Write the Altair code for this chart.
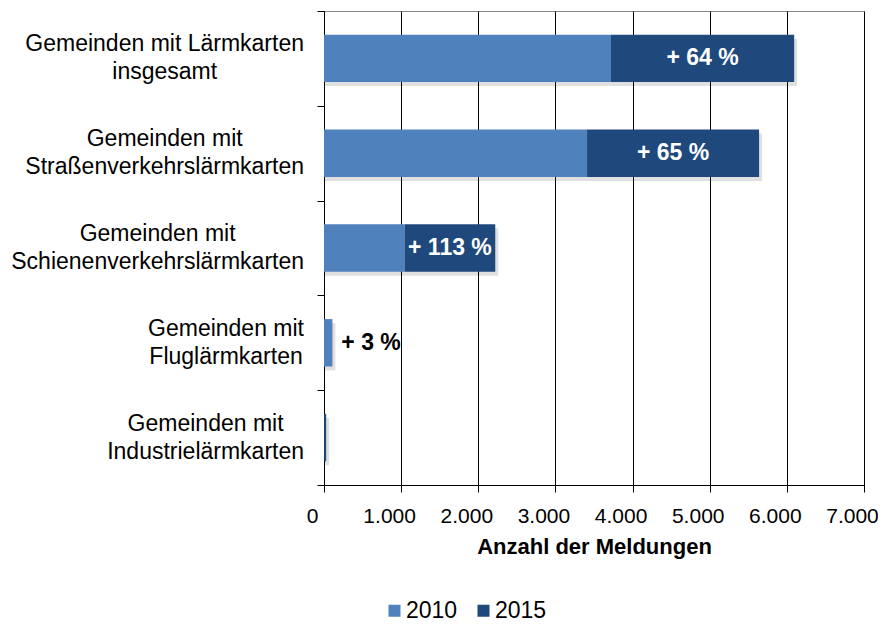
import altair as alt
import pandas as pd

# ---- data ----
categories = [
    "Gemeinden mit Lärmkarten\ninsgesamt",
    "Gemeinden mit\nStraßenverkehrslärmkarten",
    "Gemeinden mit\nSchienenverkehrslärmkarten",
    "Gemeinden mit\nFluglärmkarten",
    "Gemeinden mit\nIndustrielärmkarten",
]
values_2010 = [3720, 3410, 1045, 105, 5]
values_2015 = [6095, 5640, 2220, 108, 28]
change_labels = ["+ 64 %", "+ 65 %", "+ 113 %", "+ 3 %", ""]
series = ["2010", "2015"]
series_colors = ["#4F81BD", "#1F497D"]
x_ticks = [0, 1000, 2000, 3000, 4000, 5000, 6000, 7000]

FONT = "Liberation Sans"
CAT_SIZE = 23
LABEL_GAP = 20
LINE_H = 28

# Liberation Sans / Arial advance widths (per 1000 em) to right-align label blocks
ARIAL = {
    " ": 278, "G": 778, "e": 556, "m": 833, "i": 222, "n": 556, "d": 556, "t": 278,
    "L": 556, "ä": 556, "r": 333, "k": 500, "a": 556, "s": 500, "g": 556, "S": 667,
    "ß": 611, "v": 500, "h": 556, "l": 222, "c": 500, "F": 611, "u": 556, "I": 278,
    "o": 556,
}


def text_width(s, size):
    return sum(ARIAL.get(ch, 556) for ch in s) / 1000.0 * size


base = pd.DataFrame({
    "cat": categories,
    "v2010": values_2010,
    "v2015": values_2015,
    "label": change_labels,
})
base["lx"] = [-(LABEL_GAP + max(text_width(l, CAT_SIZE) for l in c.split("\n")) / 2)
              for c in categories]

rows = []
for c, a, b in zip(categories, values_2010, values_2015):
    rows.append({"cat": c, "series": series[0], "start": 0, "end": a})
    rows.append({"cat": c, "series": series[1], "start": a, "end": b})
bars_df = pd.DataFrame(rows)

y_enc = alt.Y("cat:N", sort=categories,
              scale=alt.Scale(paddingInner=0, paddingOuter=0),
              axis=alt.Axis(labels=False, title=None, tickBand="extent",
                            tickSize=7, tickColor="black", domainColor="black",
                            grid=False))
x_scale = alt.Scale(domain=[0, 7000], nice=False)

shadow = alt.Chart(base).mark_bar(
    color="black", opacity=0.12, xOffset=3, yOffset=4,
    height=alt.RelativeBandSize(0.5)
).encode(
    y=alt.Y("cat:N", sort=categories),
    x=alt.X("v2015:Q", scale=x_scale),
    x2=alt.datum(0),
)

bars = alt.Chart(bars_df).mark_bar(height=alt.RelativeBandSize(0.5)).encode(
    y=y_enc,
    x=alt.X("start:Q", scale=x_scale,
            axis=alt.Axis(values=x_ticks, grid=True, gridColor="black", gridOpacity=1,
                          gridWidth=1, domainColor="black", tickColor="black", tickSize=7,
                          labelFontSize=21, labelColor="black", labelPadding=13,
                          labelOffset=-12, labelOverlap=False, labelFlush=False,
                          labelExpr="replace(format(datum.value, ',.0f'), ',', '.')",
                          title="Anzahl der Meldungen", titleFontSize=22,
                          titleFontWeight="bold", titleColor="black", titlePadding=10)),
    x2="end:Q",
    color=alt.Color("series:N", scale=alt.Scale(domain=series, range=series_colors),
                    legend=alt.Legend(title=None, orient="none", legendX=59, legendY=588,
                                      direction="horizontal", symbolType="square",
                                      symbolSize=144, symbolStrokeWidth=0,
                                      labelFontSize=23, labelColor="black",
                                      labelOffset=0, columnPadding=14, padding=0)),
    order=alt.Order("start:Q"),
)

inside = alt.Chart(base).transform_filter(
    "datum.v2015 - datum.v2010 > 500"
).transform_calculate(
    mid="(datum.v2010 + datum.v2015) / 2"
).mark_text(color="white", fontWeight="bold", fontSize=23, align="center",
            baseline="middle").encode(
    y=alt.Y("cat:N", sort=categories),
    x=alt.X("mid:Q", scale=x_scale),
    text="label:N",
)

outside = alt.Chart(base).transform_filter(
    "datum.v2015 - datum.v2010 <= 500 && datum.label != ''"
).mark_text(color="black", fontWeight="bold", fontSize=23, align="left",
            baseline="middle", dx=9).encode(
    y=alt.Y("cat:N", sort=categories),
    x=alt.X("v2015:Q", scale=x_scale),
    text="label:N",
)

cat_labels = alt.Chart(base).mark_text(
    align="center", baseline="middle", lineBreak="\n", lineHeight=LINE_H,
    fontSize=CAT_SIZE, color="black", dy=-LINE_H / 2
).encode(
    y=alt.Y("cat:N", sort=categories),
    x=alt.X("lx:Q", scale=None),
    text="cat:N",
)

chart = alt.layer(shadow, bars, inside, outside, cat_labels).properties(
    width=540, height=474,
    padding={"left": 316, "top": 3, "right": 14, "bottom": 138},
    autosize=alt.AutoSizeParams(type="none"),
).configure(font=FONT).configure_view(stroke="#888888", strokeWidth=1)

chart.save("out.html", embed_options={"renderer": "svg", "actions": False})
